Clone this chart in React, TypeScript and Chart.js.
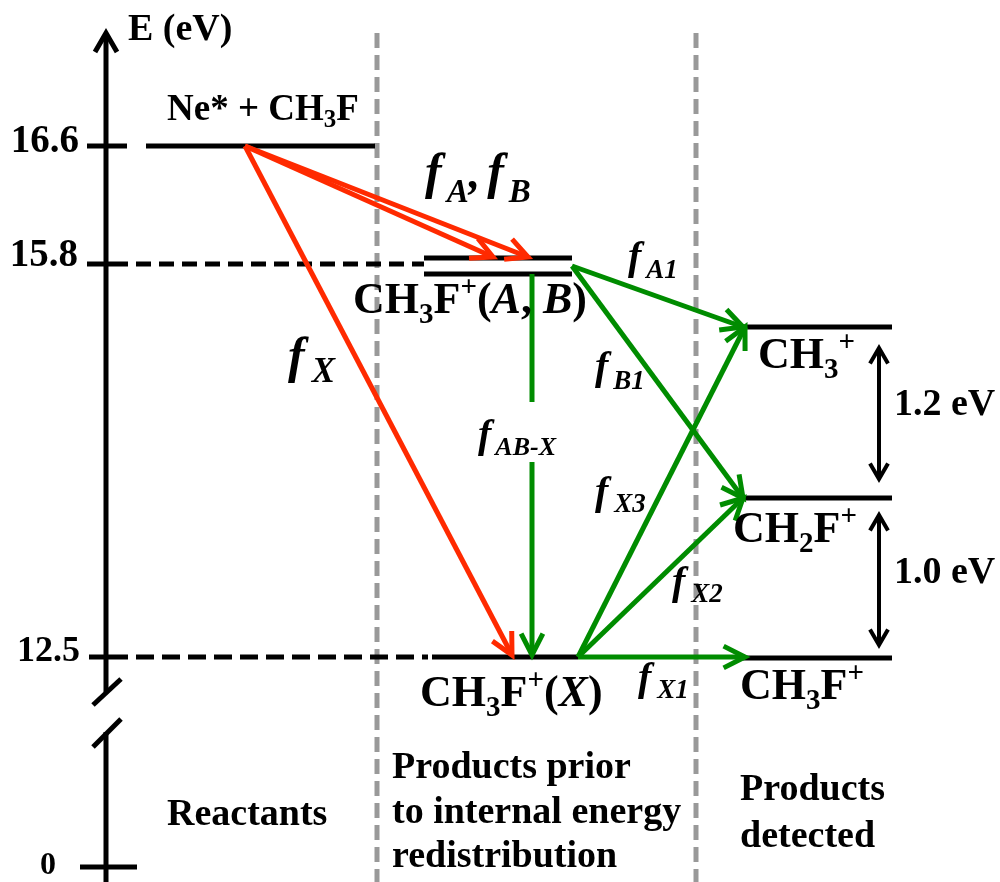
import React, { useEffect, useRef } from "react";
import { Chart, registerables } from "chart.js";

Chart.register(...registerables);

const W = 1000;
const H = 882;

// ---- Diagram data (diagram units: x to the right, y downward, schematic energy scale) ----
// Energy axis
const axisX = [106];
const axisTopY = [33];
const axisBreakY = [692, 732]; // end of upper axis part, start of lower part
const axisBottomY = [882];
const energyTickLabels = ["16.6", "15.8", "12.5", "0"];
const energyTickY = [146, 264, 657, 867];
const energyTickX0 = [87, 87, 89, 80];
const energyTickX1 = [127, 128, 128, 137];

// Energy levels
const levelNames = ["Ne* + CH3F", "CH3F+(A)", "CH3F+(B)", "CH3F+(X)", "CH3+", "CH2F+", "CH3F+"];
const levelX0 = [146, 424, 424, 432, 743, 743, 743];
const levelX1 = [375, 572, 572, 578, 892, 892, 892];
const levelY = [146, 258, 274, 657, 327, 498, 658];

// Dashed guides from the axis to the levels
const guideY = [264, 657];
const guideX0 = [136, 136];
const guideX1 = [424, 428];

// Section dividers
const dividerX = [377, 696];
const dividerY0 = [33, 33];
const dividerY1 = [882, 882];

// Transitions
const transNames = ["fA", "fB", "fX", "fA1", "fB1", "fAB-X (upper)", "fAB-X", "fX3", "fX2", "fX1"];
const transColor = ["red", "red", "red", "green", "green", "green", "green", "green", "green", "green"];
const transX0 = [245, 245, 245, 572, 572, 532, 532, 578, 578, 578];
const transY0 = [146, 146, 146, 266, 266, 274, 462, 657, 657, 657];
const transX1 = [493, 528, 512, 743, 743, 532, 532, 745, 743, 745];
const transY1 = [257, 257, 655, 327, 498, 402, 655, 327, 498, 657];
const transHead = [true, true, true, true, true, false, true, true, true, true];

// Energy gaps between detected products
const gapLabels = ["1.2 eV", "1.0 eV"];
const gapX = [879, 879];
const gapY0 = [348, 515];
const gapY1 = [479, 645];

const COLORS: Record<string, string> = {
  red: "#ff2a00",
  green: "#008c00",
  black: "#000000",
  gray: "#999999",
};

type Run = { t: string; s: number; dy: number; i: boolean; dx: number };
const R = (t: string, s: number, dy = 0, i = false, dx = 0): Run => ({ t, s, dy, i, dx });
const fontOf = (r: Run) =>
  `${r.i ? "italic " : ""}bold ${r.s}px "Liberation Serif", "Times New Roman", serif`;

type Label = { x: number; y: number; align: "left" | "right" | "center"; runs: Run[] };

const labels: Label[] = [
  { x: 128, y: 40, align: "left", runs: [R("E (eV)", 38)] },
  { x: 79, y: 152, align: "right", runs: [R(energyTickLabels[0], 39)] },
  { x: 78, y: 266, align: "right", runs: [R(energyTickLabels[1], 39)] },
  { x: 80, y: 661, align: "right", runs: [R(energyTickLabels[2], 36)] },
  { x: 48, y: 874, align: "center", runs: [R(energyTickLabels[3], 32)] },
  { x: 167, y: 120, align: "left", runs: [R("Ne* + CH", 37), R("3", 25, 7), R("F", 37)] },
  {
    x: 353, y: 313, align: "left",
    runs: [R("CH", 44), R("3", 29, 10), R("F", 44), R("+", 29, -17), R("(", 44), R("A", 44, 0, true), R(", ", 44), R("B", 44, 0, true), R(")", 44)],
  },
  {
    x: 420, y: 706, align: "left",
    runs: [R("CH", 44), R("3", 29, 10), R("F", 44), R("+", 29, -17), R("(", 44), R("X", 44, 0, true), R(")", 44)],
  },
  { x: 758, y: 368, align: "left", runs: [R("CH", 44), R("3", 29, 10), R("+", 29, -17)] },
  { x: 733, y: 542, align: "left", runs: [R("CH", 44), R("2", 29, 10), R("F", 44), R("+", 29, -17)] },
  { x: 740, y: 699, align: "left", runs: [R("CH", 44), R("3", 29, 10), R("F", 44), R("+", 29, -17)] },
  { x: 894, y: 415, align: "left", runs: [R(gapLabels[0], 38)] },
  { x: 894, y: 583, align: "left", runs: [R(gapLabels[1], 38)] },
  { x: 167, y: 825, align: "left", runs: [R("Reactants", 38)] },
  { x: 392, y: 778, align: "left", runs: [R("Products prior", 38)] },
  { x: 392, y: 823, align: "left", runs: [R("to internal energy", 38)] },
  { x: 392, y: 867, align: "left", runs: [R("redistribution", 38)] },
  { x: 740, y: 800, align: "left", runs: [R("Products", 38)] },
  { x: 740, y: 847, align: "left", runs: [R("detected", 38)] },
  {
    x: 425, y: 188, align: "left",
    runs: [R("f", 50, 0, true), R("A", 33, 14, true, 5), R(",", 46, 0, true), R("f", 50, 0, true, 7), R("B", 33, 14, true, 5)],
  },
  { x: 288, y: 372, align: "left", runs: [R("f", 50, 0, true), R("X", 35, 10, true, 7)] },
  { x: 628, y: 269, align: "left", runs: [R("f", 40, 0, true), R("A1", 27, 9, true, 5)] },
  { x: 595, y: 379, align: "left", runs: [R("f", 40, 0, true), R("B1", 27, 10, true, 5)] },
  { x: 478, y: 447, align: "left", runs: [R("f", 40, 0, true), R("AB-X", 26, 8, true, 4)] },
  { x: 595, y: 504, align: "left", runs: [R("f", 40, 0, true), R("X3", 27, 8, true, 6)] },
  { x: 672, y: 594, align: "left", runs: [R("f", 40, 0, true), R("X2", 27, 8, true, 6)] },
  { x: 638, y: 690, align: "left", runs: [R("f", 40, 0, true), R("X1", 27, 8, true, 6)] },
];

type Head = "none" | "end" | "both";

function seg(
  label: string, x0: number, y0: number, x1: number, y1: number,
  color: string, width: number, order: number, dash: number[] = [],
  head: Head = "none", headLen = 22, headAngle = 28
): any {
  return {
    label,
    type: "line",
    data: [{ x: x0, y: y0 }, { x: x1, y: y1 }],
    showLine: true,
    borderColor: color,
    backgroundColor: color,
    borderWidth: width,
    borderDash: dash,
    borderCapStyle: "butt",
    pointRadius: 0,
    pointHoverRadius: 0,
    tension: 0,
    fill: false,
    clip: false,
    order,
    arrowHead: head,
    headLen,
    headAngle,
  };
}

function buildDatasets() {
  const ds: any[] = [];
  // colored transitions (top)
  transNames.forEach((n, i) => {
    ds.push(seg(n, transX0[i], transY0[i], transX1[i], transY1[i], COLORS[transColor[i]], 5, 0, [],
      transHead[i] ? "end" : "none", 24, 27));
  });
  // energy axis
  ds.push(seg("axis-upper", axisX[0], axisBreakY[0], axisX[0], axisTopY[0], COLORS.black, 5, 1, [], "end", 22, 30));
  ds.push(seg("axis-lower", axisX[0], axisBottomY[0], axisX[0], axisBreakY[1], COLORS.black, 5, 1));
  ds.push(seg("break-1", axisX[0] - 13, axisBreakY[0] + 13, axisX[0] + 15, axisBreakY[0] - 13, COLORS.black, 5, 1));
  ds.push(seg("break-2", axisX[0] - 13, axisBreakY[1] + 15, axisX[0] + 15, axisBreakY[1] - 13, COLORS.black, 5, 1));
  energyTickY.forEach((y, i) => {
    ds.push(seg("tick-" + energyTickLabels[i], energyTickX0[i], y, energyTickX1[i], y, COLORS.black, 5, 1));
  });
  // levels
  levelNames.forEach((n, i) => {
    ds.push(seg(n, levelX0[i], levelY[i], levelX1[i], levelY[i], COLORS.black, 5, 1));
  });
  // guides
  guideY.forEach((y, i) => {
    ds.push(seg("guide", guideX0[i], y, guideX1[i], y, COLORS.black, 5, 1, i === 0 ? [15, 8] : [18, 8]));
  });
  // energy gaps
  gapLabels.forEach((n, i) => {
    ds.push(seg(n, gapX[i], gapY0[i], gapX[i], gapY1[i], COLORS.black, 4, 1, [], "both", 18, 30));
  });
  // dividers (bottom)
  dividerX.forEach((x, i) => {
    ds.push(seg("divider", x, dividerY0[i], x, dividerY1[i], COLORS.gray, 5, 2, [15, 7]));
  });
  return ds;
}

function drawHead(ctx: CanvasRenderingContext2D, tx: number, ty: number, fx: number, fy: number, len: number, angDeg: number) {
  const a = Math.atan2(ty - fy, tx - fx);
  const h = (angDeg * Math.PI) / 180;
  ctx.beginPath();
  ctx.moveTo(tx - len * Math.cos(a - h), ty - len * Math.sin(a - h));
  ctx.lineTo(tx, ty);
  ctx.lineTo(tx - len * Math.cos(a + h), ty - len * Math.sin(a + h));
  ctx.stroke();
}

const arrowPlugin = {
  id: "arrowHeads",
  afterDatasetsDraw(chart: any) {
    const ctx: CanvasRenderingContext2D = chart.ctx;
    chart.data.datasets.forEach((d: any, i: number) => {
      if (!d.arrowHead || d.arrowHead === "none") return;
      const meta = chart.getDatasetMeta(i);
      const p0 = meta.data[0];
      const p1 = meta.data[1];
      if (!p0 || !p1) return;
      ctx.save();
      ctx.strokeStyle = d.borderColor;
      ctx.lineWidth = d.borderWidth;
      ctx.lineJoin = "miter";
      ctx.lineCap = "butt";
      ctx.setLineDash([]);
      drawHead(ctx, p1.x, p1.y, p0.x, p0.y, d.headLen, d.headAngle);
      if (d.arrowHead === "both") drawHead(ctx, p0.x, p0.y, p1.x, p1.y, d.headLen, d.headAngle);
      ctx.restore();
    });
  },
};

function drawRuns(ctx: CanvasRenderingContext2D, runs: Run[], x: number, y: number, align: string) {
  const widths = runs.map((r) => {
    ctx.font = fontOf(r);
    return ctx.measureText(r.t).width + r.dx;
  });
  const total = widths.reduce((a, b) => a + b, 0);
  let cx = align === "left" ? x : align === "right" ? x - total : x - total / 2;
  runs.forEach((r, i) => {
    ctx.font = fontOf(r);
    ctx.fillText(r.t, cx + r.dx, y + r.dy);
    cx += widths[i];
  });
}

const textPlugin = {
  id: "diagramText",
  afterDraw(chart: any) {
    const ctx: CanvasRenderingContext2D = chart.ctx;
    const xs = chart.scales.x;
    const ys = chart.scales.y;
    ctx.save();
    ctx.fillStyle = "#000";
    ctx.textAlign = "left";
    ctx.textBaseline = "alphabetic";
    labels.forEach((l) => {
      drawRuns(ctx, l.runs, xs.getPixelForValue(l.x), ys.getPixelForValue(l.y), l.align);
    });
    ctx.restore();
  },
};

export default function App() {
  const ref = useRef<HTMLCanvasElement | null>(null);
  useEffect(() => {
    if (!ref.current) return;
    const chart = new Chart(ref.current, {
      type: "scatter",
      data: { datasets: buildDatasets() },
      options: {
        animation: false,
        responsive: false,
        maintainAspectRatio: false,
        layout: { padding: 0 },
        events: [],
        scales: {
          x: { type: "linear", min: 0, max: W, display: false },
          y: { type: "linear", min: 0, max: H, reverse: true, display: false },
        },
        plugins: {
          legend: { display: false },
          tooltip: { enabled: false },
          title: { display: false },
        },
      },
      plugins: [arrowPlugin, textPlugin],
    } as any);
    return () => chart.destroy();
  }, []);
  return (
    <div style={{ position: "fixed", left: 0, top: 0, width: W, height: H, background: "#fff" }}>
      <canvas ref={ref} width={W} height={H} style={{ display: "block", width: W, height: H }} />
    </div>
  );
}
